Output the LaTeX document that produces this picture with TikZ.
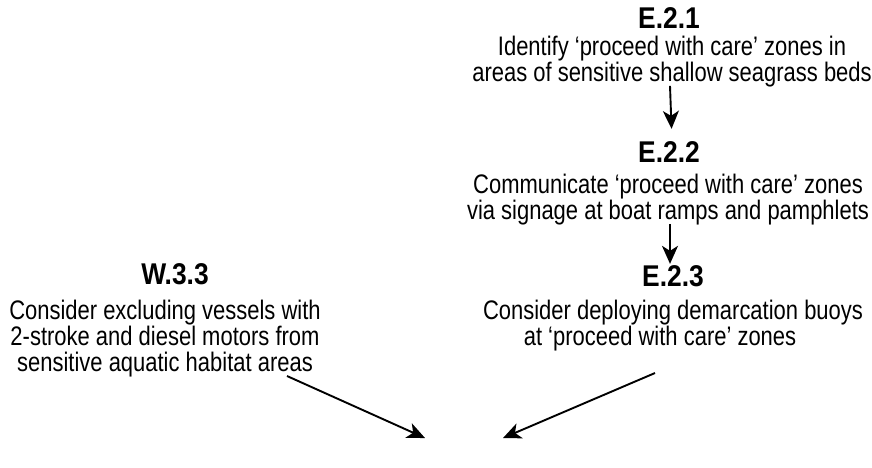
\documentclass[tikz,border=0pt]{standalone}
\usepackage{fontspec}
\setmainfont{Liberation Sans}[FakeStretch=0.82]
\newfontfamily\titlefont{Liberation Sans}[FakeStretch=0.88]
\usetikzlibrary{arrows.meta}
\newcommand{\topstrut}{\rule{0pt}{20pt}}
\begin{document}
\begin{tikzpicture}[x=1pt,y=-1pt,
  ttl/.style={font=\titlefont\fontsize{30}{30}\selectfont\bfseries, inner sep=0pt, anchor=base},
  body/.style={font=\fontsize{26.8}{26}\selectfont, align=center, inner sep=0pt, anchor=north},
  arr/.style={line width=1.9pt, -{Stealth[length=18pt,width=16pt,inset=5pt]}}]
\useasboundingbox (0,0) rectangle (872,467);
% E.2.1
\node[ttl] (e21t) at (669,28) {E.2.1};
\node[body] (e21) at (672,35) {\topstrut Identify ‘proceed with care’ zones in\\areas of sensitive shallow seagrass beds};
% E.2.2
\node[ttl] (e22t) at (669,162) {E.2.2};
\node[body] (e22) at (668,173) {\topstrut Communicate ‘proceed with care’ zones\\via signage at boat ramps and pamphlets};
% E.2.3
\node[ttl] (e23t) at (673,286) {E.2.3};
\node[body] (e23) at (673,299) {\topstrut Consider deploying demarcation buoys\\at ‘proceed with care’ zones\hspace*{26pt}};
% W.3.3
\node[ttl] (w33t) at (175,284) {W.3.3};
\node[body] (w33) at (165,299) {\topstrut Consider excluding vessels with\\2-stroke and diesel motors from\\sensitive aquatic habitat areas};
% connector end points
\coordinate (ls) at (287,376);
\coordinate (lt) at (425,438);
\coordinate (rs) at (655,373);
\coordinate (rt) at (503,438);
% arrows
\draw[arr, shorten >=12pt] ([xshift=-2pt,yshift=1pt]e21.south) -- ([xshift=0pt]e22t.north -| e21.south);
\draw[arr, shorten >=1pt] ([xshift=2pt,yshift=1pt]e22.south) -- ([xshift=2pt]e23t.north -| e22.south);
\draw[arr] (ls) -- (lt);
\draw[arr] (rs) -- (rt);
\end{tikzpicture}
\end{document}
